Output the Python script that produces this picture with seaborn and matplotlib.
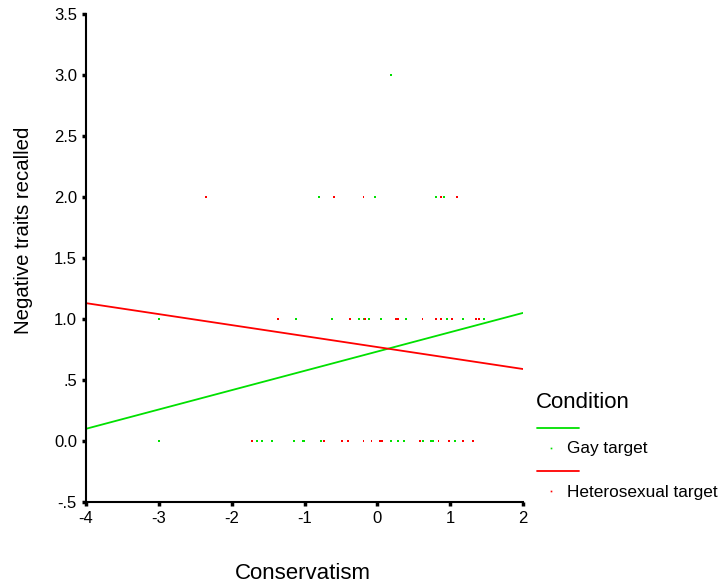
import numpy as np
import pandas as pd
import matplotlib
matplotlib.use("Agg")
import matplotlib.pyplot as plt
from matplotlib.lines import Line2D
import seaborn as sns

# ---- data ----
gay_x0 = [-3.0, -1.65, -1.58, -1.45, -1.14, -1.02, -1.0, -0.77, 0.19, 0.29, 0.37, 0.63, 0.74, 0.77, 1.06]
het_x0 = [-1.72, -0.73, -0.48, -0.40, -0.19, -0.08, 0.04, 0.07, 0.58, 0.84, 0.99, 1.17, 1.32]
gay_x1 = [-3.0, -1.12, -0.62, -0.25, -0.19, -0.18, -0.12, 0.05, 0.40, 0.87, 0.95, 1.17, 1.46]
het_x1 = [-1.36, -0.37, -0.17, 0.25, 0.29, 0.62, 0.80, 0.88, 1.02, 1.35, 1.40]
gay_x2 = [-0.80, -0.03, 0.81, 0.91]
het_x2 = [-2.35, -0.59, -0.19, 0.88, 1.10]
gay_x3 = [0.19]

line_x = [-4, 2]
gay_fit = [0.10, 1.05]
het_fit = [1.13, 0.59]

conditions = ["Gay target", "Heterosexual target"]
palette = {"Gay target": "#00e000", "Heterosexual target": "#ff0000"}

rows = []
for xs, y, cond in [(gay_x0, 0, conditions[0]), (het_x0, 0, conditions[1]),
                    (gay_x1, 1, conditions[0]), (het_x1, 1, conditions[1]),
                    (gay_x2, 2, conditions[0]), (het_x2, 2, conditions[1]),
                    (gay_x3, 3, conditions[0])]:
    for x in xs:
        rows.append({"Conservatism": x, "Recalled": y, "Condition": cond})
pts = pd.DataFrame(rows)

fits = pd.DataFrame({
    "Conservatism": line_x * 2,
    "Recalled": gay_fit + het_fit,
    "Condition": [conditions[0]] * 2 + [conditions[1]] * 2,
})

sns.set_style("ticks")
plt.rcParams["font.family"] = ["Liberation Sans", "DejaVu Sans"]
plt.rcParams["text.color"] = "black"
plt.rcParams["axes.labelcolor"] = "black"

W, H = 723, 586
fig = plt.figure(figsize=(W / 100, H / 100), dpi=100)
ax = fig.add_axes([86 / W, 84 / H, 437 / W, 488 / H])

sns.scatterplot(data=pts, x="Conservatism", y="Recalled", hue="Condition",
                palette=palette, marker="s", s=2, linewidth=0, legend=False, ax=ax)
sns.lineplot(data=fits, x="Conservatism", y="Recalled", hue="Condition",
             palette=palette, linewidth=1.3, legend=False, ax=ax)

ax.set_xlim(-4, 2)
ax.set_ylim(-0.5, 3.5)
ax.set_xticks([-4, -3, -2, -1, 0, 1, 2])
ax.set_xticklabels(["-4", "-3", "-2", "-1", "0", "1", "2"])
ax.set_yticks([-0.5, 0, 0.5, 1.0, 1.5, 2.0, 2.5, 3.0, 3.5])
ax.set_yticklabels(["-.5", "0.0", ".5", "1.0", "1.5", "2.0", "2.5", "3.0", "3.5"])
ax.tick_params(axis="both", length=3, width=2.5, direction="out", labelsize=12,
               colors="black", pad=3.5)
for side in ["top", "right"]:
    ax.spines[side].set_visible(False)
for side in ["left", "bottom"]:
    ax.spines[side].set_color("black")
    ax.spines[side].set_linewidth(1.5)

ax.set_xlabel("Conservatism", fontsize=16)
ax.xaxis.set_label_coords(0.497, (502 - 563) / 488)
ax.set_ylabel("Negative traits recalled", fontsize=14.7)
ax.yaxis.set_label_coords((33 - 86) / 437, (502 - 230) / 488)

# legend drawn by hand to match the layout (line row, then marker + label row)
def fx(px):
    return px / W

def fy(py):
    return 1 - py / H

fig.text(fx(536), fy(403), "Condition", fontsize=16, ha="left", va="center")
for cond, y_line, y_lab in [(conditions[0], 428, 449), (conditions[1], 471, 492)]:
    fig.add_artist(Line2D([fx(537), fx(579)], [fy(y_line), fy(y_line)],
                          color=palette[cond], lw=1.3, transform=fig.transFigure))
    fig.add_artist(Line2D([fx(551)], [fy(y_lab - 1)], color=palette[cond], lw=0,
                          marker="s", markersize=1.2, markeredgewidth=0,
                          transform=fig.transFigure))
    fig.text(fx(567), fy(y_lab), cond, fontsize=12.4, ha="left", va="center")

fig.savefig("out.png", dpi=100)
